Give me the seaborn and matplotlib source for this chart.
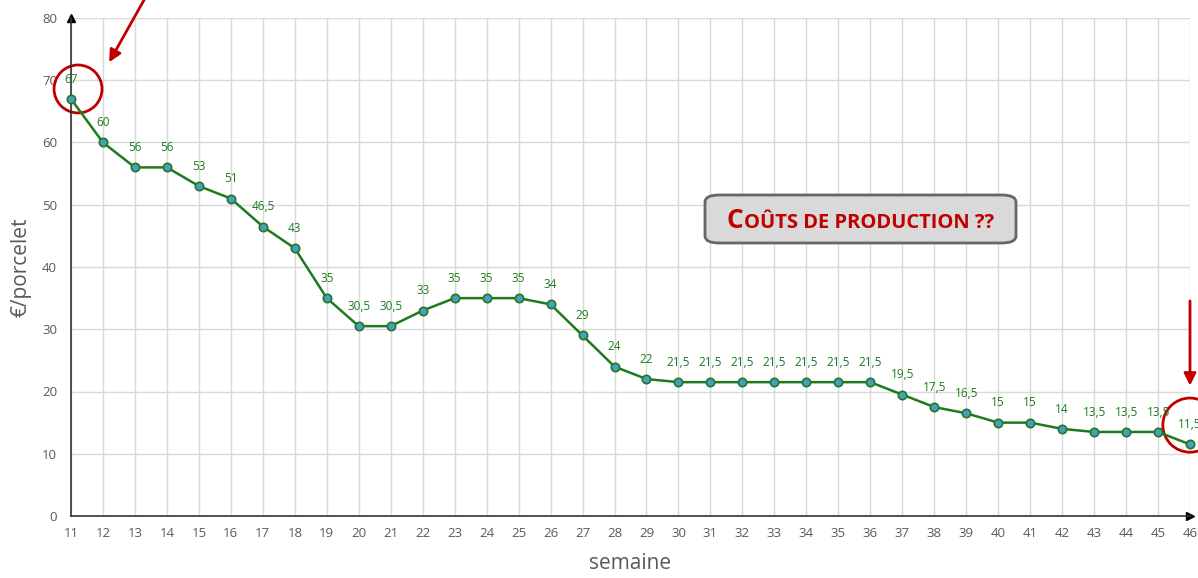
import pandas as pd
import matplotlib.pyplot as plt
import seaborn as sns
from matplotlib.patches import Ellipse, FancyBboxPatch

# weekly piglet price
weeks = list(range(11, 47))
prices = [67, 60, 56, 56, 53, 51, 46.5, 43, 35, 30.5, 30.5, 33, 35, 35, 35, 34, 29, 24, 22,
          21.5, 21.5, 21.5, 21.5, 21.5, 21.5, 21.5,
          19.5, 17.5, 16.5, 15, 15, 14, 13.5, 13.5, 13.5, 11.5]
yticks = [0, 10, 20, 30, 40, 50, 60, 70, 80]

df = pd.DataFrame({'semaine': weeks, 'prix': prices})

sns.set_style('white')
plt.rcParams['font.family'] = ['Open Sans', 'DejaVu Sans']

W, H = 1198, 578
fig = plt.figure(figsize=(W / 100, H / 100), dpi=100)
ax = fig.add_axes([71 / W, 62 / H, 1119 / W, 498 / H])

green = '#1f7a1f'
sns.lineplot(data=df, x='semaine', y='prix', ax=ax, color=green, linewidth=1.8,
             marker='o', markersize=6, markerfacecolor='#4a9cc4', markeredgecolor=green,
             markeredgewidth=1.2, clip_on=False, zorder=3)

for w, p in zip(weeks, prices):
    lbl = ('%g' % p).replace('.', ',')
    ax.annotate(lbl, (w, p), xytext=(0, 9.5), textcoords='offset points', ha='center',
                va='bottom', fontsize=8.5, color=green, annotation_clip=False)

ax.set_xlim(11, 46)
ax.set_ylim(0, 80)
ax.set_xticks(weeks)
ax.set_yticks(yticks)
ax.grid(True, color='#d9d9d9', linewidth=1)
ax.tick_params(axis='both', length=0, labelsize=9.5, labelcolor='#595959')
ax.tick_params(axis='x', pad=8)
ax.tick_params(axis='y', pad=10)
for s in ['top', 'right']:
    ax.spines[s].set_visible(False)
for s in ['left', 'bottom']:
    ax.spines[s].set_color('#333333')
    ax.spines[s].set_linewidth(1.2)

# axis arrows
ax.plot(1, 0, '>k', markersize=6, transform=ax.transAxes, clip_on=False)
ax.plot(0, 1, '^k', markersize=6, transform=ax.transAxes, clip_on=False)

ax.set_xlabel('semaine', fontsize=15, color='#595959')
ax.set_ylabel('€/porcelet', fontsize=15, color='#595959')
ax.xaxis.set_label_coords(0.5, -0.075)
ax.yaxis.set_label_coords(-0.035, 0.5)

red = '#c00000'
ax.annotate('', xy=(12.15, 72.5), xytext=(13.35, 83.5), annotation_clip=False,
            arrowprops=dict(arrowstyle='-|>', color=red, lw=2, mutation_scale=18))
ax.add_patch(Ellipse((11.22, 68.6), 1.5, 7.7, fill=False, edgecolor=red, lw=2, clip_on=False))
ax.annotate('', xy=(46, 20.5), xytext=(46, 35), annotation_clip=False,
            arrowprops=dict(arrowstyle='-|>', color=red, lw=2, mutation_scale=18))
ax.add_patch(Ellipse((46, 14.6), 1.7, 8.7, fill=False, edgecolor=red, lw=2, clip_on=False))

# "Coûts de production ??" box in small caps
box = FancyBboxPatch((705 / W, (H - 243) / H), 311 / W, 48 / H,
                     boxstyle='round,pad=0,rounding_size=0.012', transform=fig.transFigure,
                     facecolor='#d9d9d9', edgecolor='#666666', lw=2, zorder=5)
fig.patches.append(box)
fig.canvas.draw()
r = fig.canvas.get_renderer()
t1 = fig.text(0, 0, 'C', fontsize=19, fontweight='bold', color=red, ha='left',
              va='baseline', zorder=6)
t2 = fig.text(0, 0, 'OÛTS DE PRODUCTION ??', fontsize=14.5, fontweight='bold', color=red,
              ha='left', va='baseline', zorder=6)
w1 = t1.get_window_extent(r).width
w2 = t2.get_window_extent(r).width
x0 = 860 - (w1 + w2) / 2
base = H - 228
t1.set_position((x0 / W, base / H))
t2.set_position(((x0 + w1 + 1) / W, base / H))

fig.savefig('out.png', dpi=100)
